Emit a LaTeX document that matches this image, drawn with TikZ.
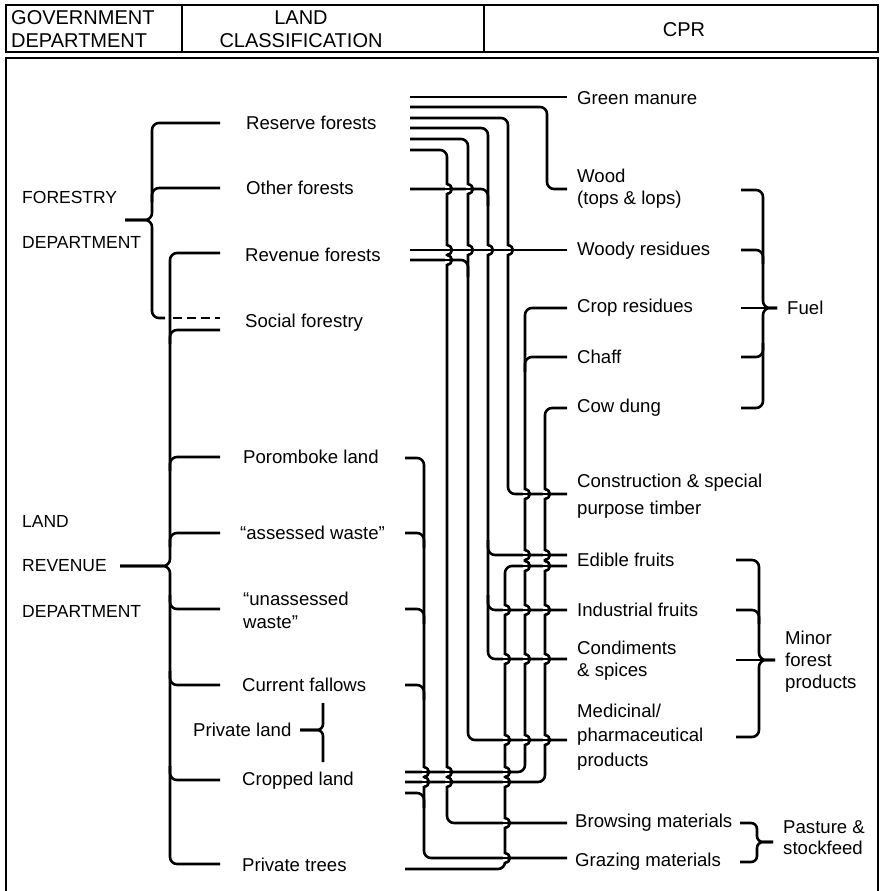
\documentclass[tikz,border=0pt]{standalone}
\usepackage{fontspec}
\setmainfont{Liberation Sans}
\newcommand\wirehop[2]{%
  \fill[white] ({#1-2.4},{#2-4.2}) rectangle ({#1+2.4},{#2+4.2});
  \draw[line width=2.6pt] ({#1-3.5},#2) -- ({#1+3.5},#2);
  \draw[line width=2.6pt] (#1,{#2-4.8}) .. controls ({#1+6.5},{#2-4}) and ({#1+6.5},{#2+4}) .. (#1,{#2+4.8});}
\begin{document}
\begin{tikzpicture}[x=1pt,y=-1pt,
  wire/.style={line width=2.6pt, rounded corners=7pt},
  frame/.style={line width=1.8pt},
  lbl/.style={anchor=west, inner sep=0pt, align=left, font=\fontsize{18.6}{23}\selectfont},
  dept/.style={anchor=west, inner sep=0pt, font=\fontsize{17.5}{21}\selectfont},
  hdr/.style={inner sep=0pt, font=\fontsize{20}{24}\selectfont}]
\useasboundingbox (0,0) rectangle (882,891);
% frames
\draw[frame] (6,5) rectangle (878,52);
\draw[frame] (182,5) -- (182,52) (484,5) -- (484,52);
\draw[frame] (6,891) -- (6,58) -- (878,58) -- (878,891);
% header
\node[hdr, anchor=west] (gov1) at (11,18) {GOVERNMENT};
\node[hdr, anchor=west] (gov2) at (11,41) {DEPARTMENT};
\node[hdr] (lc1) at (301,18) {LAND};
\node[hdr] (lc2) at (301,41) {CLASSIFICATION};
\node[hdr] (cpr) at (684,30) {CPR};
% departments
\node[dept] (fd1) at (22,197) {FORESTRY};
\node[dept] (fd2) at (22,242) {DEPARTMENT};
\node[dept] (ld1) at (22,521) {LAND};
\node[dept] (ld2) at (22,566) {REVENUE};
\node[dept] (ld3) at (22,611) {DEPARTMENT};
% land classification
\node[lbl] (reserve) at (246,123) {Reserve forests};
\node[lbl] (otherf) at (246,188) {Other forests};
\node[lbl] (revenue) at (245,255) {Revenue forests};
\node[lbl] (social) at (245,323) {Social forestry};
\node[lbl] (porom) at (243,457) {Poromboke land};
\node[lbl] (assess) at (240,533) {“assessed waste”};
\node[lbl] (unass) at (243,610) {“unassessed\\waste”};
\node[lbl] (fallow) at (242,685) {Current fallows};
\node[lbl] (privl) at (193,730) {Private land};
\node[lbl] (cropl) at (242,781) {Cropped land};
\node[lbl] (privt) at (242,865) {Private trees};
% CPR
\node[lbl] (green) at (577,98) {Green manure};
\node[lbl, font=\fontsize{18.6}{22}\selectfont] (wood) at (577,189) {Wood\\(tops \& lops)};
\node[lbl] (woody) at (577,251) {Woody residues};
\node[lbl] (crop) at (577,308) {Crop residues};
\node[lbl] (chaff) at (577,357) {Chaff};
\node[lbl] (cow) at (577,408) {Cow dung};
\node[lbl, font=\fontsize{18.6}{27}\selectfont] (constr) at (577,496) {Construction \& special\\purpose timber};
\node[lbl] (edible) at (577,560) {Edible fruits};
\node[lbl] (indus) at (577,610) {Industrial fruits};
\node[lbl, font=\fontsize{18.6}{22}\selectfont] (condi) at (577,661) {Condiments\\\& spices};
\node[lbl, font=\fontsize{18.6}{24.5}\selectfont] (medic) at (577,737) {Medicinal/\\pharmaceutical\\products};
\node[lbl] (brows) at (575,823) {Browsing materials};
\node[lbl] (graz) at (575,862) {Grazing materials};
\node[lbl] (fuel) at (787,308) {Fuel};
\node[lbl, font=\fontsize{18.6}{22}\selectfont] (minor) at (785,662) {Minor\\forest\\products};
\node[lbl, font=\fontsize{18.6}{21}\selectfont] (past) at (783,838) {Pasture \&\\stockfeed};
% ---- left braces
\draw[wire] (220,123) -- (152,123) -- (152,220) -- (125,220);
\draw[wire] (165,318) -- (152,318) -- (152,220) -- (125,220);
\draw[wire] (220,188) -- (152,188) -- (152,202);
\draw[line width=2.6pt, dash pattern=on 9pt off 5pt] (173,318) -- (220,318);
\draw[wire] (220,253) -- (170,253) -- (170,566) -- (120,566);
\draw[wire] (220,864) -- (170,864) -- (170,566) -- (120,566);
\foreach \yy in {330,457,533} \draw[wire] (220,\yy) -- (170,\yy) -- (170,\yy+14);
\foreach \yy in {609,685,780} \draw[wire] (220,\yy) -- (170,\yy) -- (170,\yy-14);
\draw[wire, rounded corners=6pt] (323,703) -- (323,730) -- (300,730);
\draw[wire, rounded corners=6pt] (323,762) -- (323,730) -- (300,730);
% ---- right braces
\draw[wire] (741,190) -- (763,190) -- (763,308) -- (777,308);
\draw[wire] (741,408) -- (763,408) -- (763,308) -- (777,308);
\draw[wire] (741,250) -- (763,250) -- (763,264);
\draw[wire] (741,357) -- (763,357) -- (763,343);
\draw[wire] (741,308) -- (777,308);
\draw[wire] (736,560) -- (759,560) -- (759,660) -- (775,660);
\draw[wire] (736,737) -- (759,737) -- (759,660) -- (775,660);
\draw[wire] (736,610) -- (759,610) -- (759,624);
\draw[wire] (736,660) -- (775,660);
\draw[wire, rounded corners=6pt] (740,823) -- (757,823) -- (757,842) -- (773,842);
\draw[wire, rounded corners=6pt] (740,862) -- (757,862) -- (757,842) -- (773,842);
% ---- wiring
% reserve forests
\draw[wire] (410,97) -- (567,97);
\draw[wire] (410,107) -- (547,107) -- (547,189) -- (567,189);
\draw[wire] (410,118) -- (508,118) -- (508,494) -- (567,494);
\draw[wire] (410,128) -- (488,128) -- (488,659) -- (567,659);
\draw[wire] (488,540) -- (488,555) -- (567,555);
\draw[wire] (488,595) -- (488,610) -- (567,610);
\draw[wire] (410,139) -- (468,139) -- (468,740) -- (567,740);
\draw[wire] (410,150) -- (447,150) -- (447,823) -- (567,823);
% other forests
\draw[wire] (410,189) -- (488,189) -- (488,206);
% revenue forests
\draw[wire] (410,250) -- (567,250);
\draw[wire] (410,260) -- (468,260) -- (468,277);
% crop residues / chaff
\draw[wire] (567,308) -- (525,308) -- (525,772) -- (405,772);
\draw[wire] (567,357) -- (525,357) -- (525,372);
% cow dung
\draw[wire] (567,408) -- (545,408) -- (545,782) -- (405,782);
% poromboke group -> grazing
\draw[wire] (405,458) -- (424,458) -- (424,858) -- (567,858);
\foreach \yy in {533,609,685,793} \draw[wire] (405,\yy) -- (424,\yy) -- (424,\yy+15);
% private trees -> edible fruits
\draw[wire] (405,869) -- (505,869) -- (505,566) -- (567,566);
% ---- hops
\foreach \p/\q in {447/189,468/189,447/250,468/250,488/250,508/250,447/260,
  525/494,545/494,525/555,545/555,525/566,545/566,
  505/610,525/610,545/610,505/659,525/659,545/659,
  505/740,525/740,545/740,424/772,447/772,505/772,424/782,447/782,505/782,
  505/823,505/858} {\wirehop{\p}{\q}}
\end{tikzpicture}
\end{document}
